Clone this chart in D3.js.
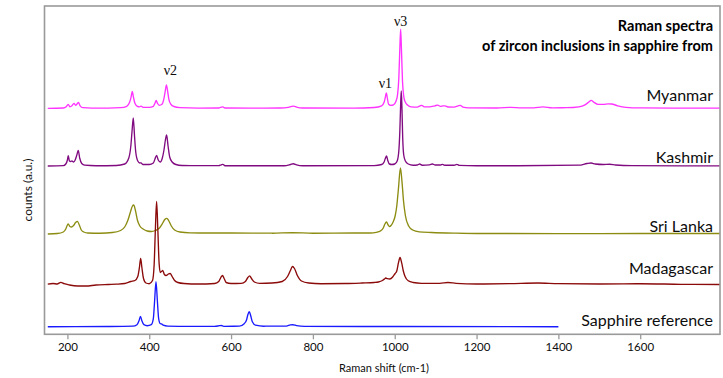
<!DOCTYPE html>
<html>
<head>
<meta charset="utf-8">
<script src="https://cdn.jsdelivr.net/npm/d3@7"></script>
<style>
  html, body { margin: 0; padding: 0; background: #fff; }
  svg { display: block; }
</style>
</head>
<body>
<svg id="chart" width="723" height="378"></svg>
<script>
// Raman shift (cm-1) vs counts (a.u.), one array of [shift, counts] per spectrum
const myanmar = [[152,0],[190,0.3],[197,1.5],[202,4],[206,1.5],[211,2.5],[216,5],[220,3],[224,4.5],[227,6],[231,2.5],[238,0.6],[260,0.2],[300,0.2],[330,0.6],[345,2],[352,6],[356,12],[358.5,17],[361,12],[365,5],[371,2],[376,1.5],[380,2.2],[385,1],[400,1],[410,2],[414,5],[417,8],[420,5],[425,3],[431,4],[436,10],[439,17],[442,23.5],[445,17],[448,9],[453,4],[460,1.8],[475,0.6],[520,0.2],[570,0.3],[576,1.2],[580,1.5],[585,0.3],[650,0.2],[720,0.3],[740,1],[748,2],[753,2.2],[760,1.2],[775,0.3],[900,0.2],[950,0.8],[968,2.5],[974,6],[977,11],[979.5,15.5],[982,10],[985,4],[990,3],[997,3.5],[1003,7],[1007,14],[1010,30],[1012.5,60],[1014.5,79],[1016.5,58],[1019,27],[1022,12],[1026,6],[1032,3],[1040,1.5],[1055,1.2],[1062,2.5],[1066,3],[1072,1.5],[1085,1.5],[1098,2.5],[1105,3.2],[1112,2],[1118,2.5],[1123,2.5],[1130,1.3],[1145,1.2],[1155,2.5],[1160,3],[1167,1.2],[1180,0.4],[1250,0.3],[1284,1],[1310,0.4],[1340,0.5],[1362,1.5],[1385,0.5],[1420,0.6],[1450,1.5],[1465,3.5],[1475,6.5],[1480,8],[1487,6],[1497,4],[1510,4],[1522,4.5],[1530,4.3],[1545,2.5],[1565,1],[1600,0.4],[1700,0.2],[1795,0.1]];

const kashmir = [[152,0],[190,0.3],[196,2],[200,6],[202,10.3],[205,5],[208,4.5],[211,5],[215,4],[219,6],[223,11],[226.5,15.7],[230,8],[235,2.5],[242,0.8],[270,0.3],[320,0.5],[340,2],[350,8],[355,20],[358,35],[361,48],[364,30],[367,14],[372,5],[377,3],[380,3.2],[384,1.5],[400,1.5],[410,3],[414,7],[418,10.7],[422,6],[427,4],[432,8],[436,16],[439.5,26],[442.5,31],[446,20],[450,9],[456,4],[465,1.5],[480,0.5],[570,0.3],[576,1.2],[580,1.6],[585,0.3],[730,0.3],[745,1.5],[752,2.3],[760,1.2],[775,0.3],[950,0.4],[968,1.5],[974,4],[977,7.5],[980,10],[983,5.5],[987,2],[993,1.5],[1000,2],[1006,5],[1010,15],[1012.5,35],[1014.5,62],[1016,75],[1017.5,60],[1019.5,28],[1022,11],[1026,5],[1033,2],[1045,0.8],[1055,1],[1061,2],[1067,0.8],[1085,1.2],[1092,2],[1099,1],[1112,1],[1117,1.6],[1122,0.8],[1145,0.8],[1152,1.6],[1158,0.7],[1200,0.3],[1300,0.3],[1450,0.8],[1470,2.5],[1480,3],[1490,2],[1510,1.5],[1525,1.8],[1540,1],[1580,0.3],[1700,0.2],[1795,0.1]];

const sriLanka = [[152,0],[175,0.5],[190,2],[196,5],[200,9],[202,10],[206,7.5],[210,7],[215,8.5],[220,11.5],[224.5,12.7],[229,9],[234,4],[240,2],[250,1],[280,0.8],[310,1.5],[330,3.5],[340,7],[348,14],[354,22],[359,28],[362,29],[366,24],[371,14],[377,8],[385,5],[395,3],[405,2.5],[415,3.5],[425,6],[433,11],[438,14.5],[443,15.7],[448,13],[454,8],[462,4],[475,2],[500,1.2],[550,1],[600,1],[700,0.8],[750,1.3],[800,0.8],[900,1],[940,1],[955,1.7],[965,3],[972,6],[976,10],[980,12],[984,9],[987,7.5],[991,8.5],[996,12],[1001,18],[1005,28],[1009,45],[1014,66],[1018,51],[1021.5,33],[1026,18.5],[1034,8],[1044,4],[1060,2.2],[1090,1.5],[1150,0.8],[1200,0.5],[1400,0.4],[1600,0.5],[1795,0.5]];

const madagascar = [[152,0.3],[165,1],[175,0.5],[184,2.2],[192,0.8],[205,-0.5],[225,-1.5],[245,-1.5],[270,-0.5],[300,0],[320,0.3],[340,1],[355,3],[365,4],[372,8],[376,17],[379,26],[382,17],[386,6],[392,1.5],[400,0.8],[408,4],[412,20],[415,55],[418,83],[421,55],[424,22],[427,12],[430,13],[433,14],[437,10],[441,9],[447,10.5],[451,11],[456,8],[462,4],[470,2],[485,1],[520,0.5],[560,1],[570,3],[575,7],[579,9],[583,6],[588,2],[600,1],[625,1.2],[635,3],[641,7],[645.5,8.7],[650,6],[657,2.5],[670,1.2],[700,1.5],[725,3],[738,8],[745,14],[750,18],[755,16],[762,9],[772,3.5],[790,1.5],[820,0.8],[880,1],[920,1.5],[950,2],[960,2.5],[970,4],[975,5.5],[978,6.5],[982,5.8],[988,5.5],[995,7.5],[1001,11],[1005,13.5],[1009,21.6],[1013,27],[1017,21.6],[1021,13.5],[1025,8.3],[1033,3.7],[1045,2],[1065,1.2],[1110,1.2],[1130,2],[1150,1.2],[1200,0.5],[1280,0.8],[1350,1.5],[1400,0.8],[1500,0.5],[1600,0.8],[1700,0.2],[1795,0]];

const sapphire = [[152,0],[300,0.2],[360,0.5],[370,2],[375,6],[378.5,10.3],[382,6],[387,2],[395,1],[405,2],[410,8],[413,25],[416.5,45],[420,25],[423,8],[427,3],[430,2.8],[434,1.5],[445,0.6],[500,0.3],[560,0.3],[572,1],[576,1.2],[582,0.4],[620,0.5],[632,3],[638,7],[641,12],[644.5,15],[648,11],[652,5],[660,1.5],[680,0.5],[735,0.6],[745,1.8],[751,2],[760,1],[780,0.3],[1000,0.2],[1400,0]];

// Stacking order (top to bottom), vertical offsets in counts, and trace colours
const seriesNames = ["Myanmar", "Kashmir", "Sri Lanka", "Madagascar", "Sapphire reference"];
const seriesData = [myanmar, kashmir, sriLanka, madagascar, sapphire];
const offsets = [226, 168.3, 100.3, 49.8, 7.6];
const colors = ["#ff33ff", "#800a80", "#8c8c12", "#8b0a0a", "#1a1aff"];

// Zircon band labels and the shift of the peak each one sits over
const bandLabels = ["ν2", "ν1", "ν3"];
const bandShifts = [442, 979.5, 1014.5];

const xTicks = [200, 400, 600, 800, 1000, 1200, 1400, 1600];
const titleLines = ["Raman spectra", "of zircon inclusions in sapphire from"];

const svg = d3.select("#chart");
const plot = { left: 44.5, right: 720, top: 6, bottom: 334.3 };
const sans = "Lato, 'Open Sans', sans-serif";
const ink = "#0d0d0d";

const x = d3.scaleLinear().domain([144, 1795]).range([plot.left, plot.right]);
const y = d3.scaleLinear().domain([0, 328.3]).range([plot.bottom, plot.top]);

// Traces
const line = d3.line()
  .x(d => x(d[0]))
  .y(d => y(d[1]))
  .curve(d3.curveMonotoneX);

const traces = svg.append("g");
seriesData.forEach((s, i) => {
  traces.append("path")
    .datum(s.map(d => [d[0], d[1] + offsets[i]]))
    .attr("fill", "none")
    .attr("stroke", colors[i])
    .attr("stroke-width", 1.35)
    .attr("stroke-linejoin", "round")
    .attr("d", line);
});

// Frame
svg.append("rect")
  .attr("x", plot.left).attr("y", plot.top)
  .attr("width", plot.right - plot.left)
  .attr("height", plot.bottom - plot.top)
  .attr("fill", "none")
  .attr("stroke", "#9a9a9a")
  .attr("stroke-width", 1.6);

// Bottom axis
const xAxis = svg.append("g")
  .attr("transform", `translate(0,${plot.bottom})`)
  .call(d3.axisBottom(x).tickValues(xTicks).tickSize(5).tickPadding(4).tickFormat(d3.format("d")));
xAxis.select(".domain").remove();
xAxis.selectAll(".tick line").attr("stroke", "#9a9a9a").attr("stroke-width", 1.3);
xAxis.selectAll(".tick text")
  .attr("fill", ink)
  .style("font-family", sans)
  .style("font-size", "11.5px");

svg.append("text")
  .attr("x", 384).attr("y", 372)
  .attr("text-anchor", "middle")
  .style("font-family", sans).style("font-size", "11px")
  .attr("fill", ink)
  .text("Raman shift (cm-1)");

svg.append("text")
  .attr("transform", "translate(32,190) rotate(-90)")
  .attr("text-anchor", "middle")
  .style("font-family", sans).style("font-size", "12px")
  .attr("fill", ink)
  .text("counts (a.u.)");

// Spectrum names, right-aligned just above each baseline
const nameBaselineGap = [7, 3.5, 2.5, 10.5, 1];
seriesNames.forEach((n, i) => {
  svg.append("text")
    .attr("x", 713)
    .attr("y", y(offsets[i]) - nameBaselineGap[i])
    .attr("text-anchor", "end")
    .style("font-family", sans).style("font-size", "16px")
    .attr("fill", ink)
    .text(n);
});

// Title
titleLines.forEach((t, i) => {
  svg.append("text")
    .attr("x", 713).attr("y", 31 + i * 20)
    .attr("text-anchor", "end")
    .style("font-family", sans).style("font-size", "14.5px").style("font-weight", "bold")
    .attr("fill", "#000")
    .text(t);
});

// Band labels over the Myanmar peaks
const bandDx = [4, -1, 0];
const bandGap = [9.5, 5, 3.5];
bandLabels.forEach((b, i) => {
  const pk = myanmar.reduce((m, d) => Math.abs(d[0] - bandShifts[i]) < Math.abs(m[0] - bandShifts[i]) ? d : m);
  svg.append("text")
    .attr("x", x(bandShifts[i]) + bandDx[i])
    .attr("y", y(pk[1] + offsets[0]) - bandGap[i])
    .attr("text-anchor", "middle")
    .style("font-family", "'Liberation Serif', 'DejaVu Serif', serif").style("font-size", "14px")
    .attr("fill", ink)
    .text(b);
});
</script>
</body>
</html>
